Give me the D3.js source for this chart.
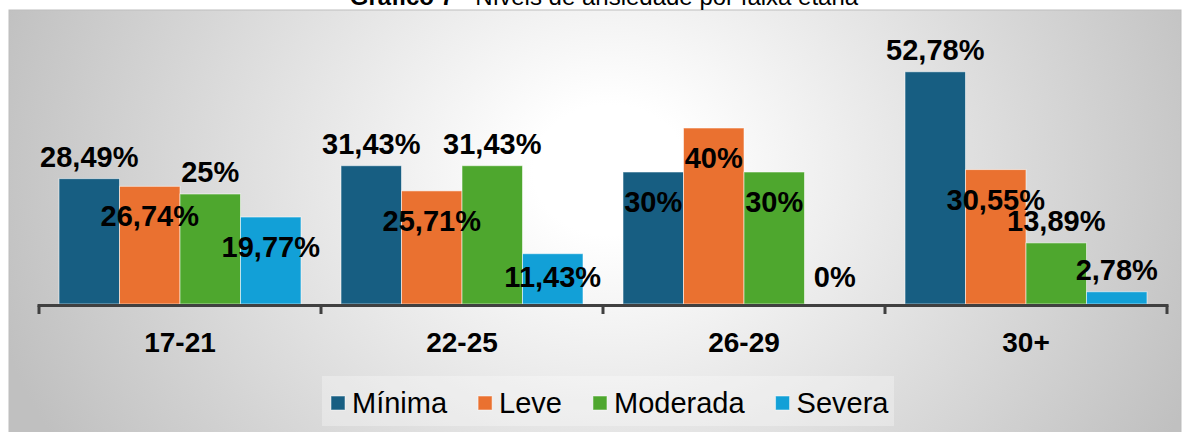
<!DOCTYPE html>
<html>
<head>
<meta charset="utf-8">
<script src="https://cdn.jsdelivr.net/npm/d3@7"></script>
<style>
  html, body { margin: 0; padding: 0; background: #fff; }
  svg { display: block; font-family: 'Liberation Sans', Arial, sans-serif; }
</style>
</head>
<body>
<div id="chart"></div>
<script>
// Níveis de ansiedade por faixa etária

const categories = ['17-21', '22-25', '26-29', '30+'];
const seriesNames = ['Mínima', 'Leve', 'Moderada', 'Severa'];
const minima = [28.49, 31.43, 30, 52.78];
const leve = [26.74, 25.71, 40, 30.55];
const moderada = [25, 31.43, 30, 13.89];
const severa = [19.77, 11.43, 0, 2.78];
const colors = ['#175e82', '#ea7130', '#4ea72e', '#12a0d7'];
// where each data label sits: above the bar or inside it
const labelSpots = [
    ['above', 'inside', 'above', 'inside'],
    ['above', 'inside', 'above', 'inside'],
    ['inside', 'inside', 'inside', 'inside'],
    ['above', 'inside', 'above', 'above']
];

(function () {
    'use strict';

    const W = 1184, H = 432;
    const seriesValues = [minima, leve, moderada, severa];

    const svg = d3.select('#chart').append('svg')
        .attr('width', W).attr('height', H);

    // fundo com gradiente radial
    const defs = svg.append('defs');
    const grad = defs.append('radialGradient').attr('id', 'bg')
        .attr('gradientUnits', 'userSpaceOnUse')
        .attr('cx', 610).attr('cy', 170).attr('r', 640)
        .attr('gradientTransform', 'translate(610,170) scale(1,0.85) translate(-610,-170)');
    grad.append('stop').attr('offset', 0.12).attr('stop-color', '#ffffff');
    grad.append('stop').attr('offset', 1).attr('stop-color', '#c0c0c0');

    svg.append('rect')
        .attr('x', 9).attr('y', 10).attr('width', 1172).attr('height', 430)
        .attr('fill', 'url(#bg)').attr('stroke', '#bdbdbd').attr('stroke-width', 1);

    // título (cortado no topo)
    const title = svg.append('text')
        .attr('x', 604).attr('y', 5).attr('text-anchor', 'middle')
        .style('font-size', '24px').attr('fill', '#000');
    title.append('tspan').style('font-weight', 'bold').text('Gráfico 7');
    title.append('tspan').text(' - Níveis de ansiedade por faixa etária');

    // escalas
    const x0 = d3.scaleBand().domain(categories).range([39, 1167]).padding(0);
    const x1 = d3.scaleBand().domain(seriesNames)
        .range([20, x0.bandwidth() - 20]).padding(0);
    const y = d3.scaleLinear().domain([0, 60]).range([304, 40]);

    const fmt = function (v) {
        return Number(v.toFixed(2)).toString().replace('.', ',') + '%';
    };

    const cellData = [];
    categories.forEach(function (c, ci) {
        seriesNames.forEach(function (s, si) {
            cellData.push({ cat: c, ci: ci, series: s, si: si, value: seriesValues[si][ci] });
        });
    });

    const bx = function (d) { return x0(d.cat) + x1(d.series); };

    // barras
    svg.append('g').attr('class', 'bars')
        .selectAll('rect')
        .data(cellData.filter(function (d) { return d.value > 0; }))
        .enter().append('rect')
        .attr('x', bx)
        .attr('y', function (d) { return y(d.value); })
        .attr('width', x1.bandwidth())
        .attr('height', function (d) { return y(0) - y(d.value); })
        .attr('fill', function (d) { return colors[d.si]; })
        .attr('stroke', 'rgba(255,255,255,0.55)')
        .attr('stroke-width', 1);

    // eixo X
    const axisY = 305.5;
    svg.append('line')
        .attr('x1', x0.range()[0]).attr('x2', x0.range()[1])
        .attr('y1', axisY).attr('y2', axisY)
        .attr('stroke', '#404040').attr('stroke-width', 3).attr('stroke-linecap', 'square');

    const bounds = categories.map(function (c) { return x0(c); }).concat([x0.range()[1]]);
    svg.selectAll('.bound').data(bounds).enter().append('line')
        .attr('x1', function (d) { return d; }).attr('x2', function (d) { return d; })
        .attr('y1', axisY).attr('y2', 314)
        .attr('stroke', '#404040').attr('stroke-width', 3);

    const xAxis = d3.axisBottom(x0).tickSize(0).tickPadding(0);
    svg.append('g').attr('transform', 'translate(0,352)')
        .call(xAxis)
        .call(function (g) { g.select('.domain').remove(); })
        .selectAll('text')
        .attr('dy', 0)
        .attr('fill', '#000')
        .style('font-family', "'Liberation Sans', Arial, sans-serif")
        .style('font-size', '28px').style('font-weight', 'bold');

    // rótulos dos valores (depois das barras, para ficarem por cima)
    svg.append('g').attr('class', 'labels')
        .selectAll('text')
        .data(cellData)
        .enter().append('text')
        .attr('x', function (d) { return bx(d) + x1.bandwidth() / 2; })
        .attr('y', function (d) {
            const top = y(d.value);
            if (labelSpots[d.ci][d.si] === 'above') {
                return top - 12;
            }
            return Math.min(top + 40, y(0) - 17);
        })
        .attr('text-anchor', 'middle')
        .style('font-size', '29px').style('font-weight', 'bold')
        .attr('fill', '#000')
        .text(function (d) { return fmt(d.value); });

    // legenda
    svg.append('rect')
        .attr('x', 322).attr('y', 376).attr('width', 572).attr('height', 50)
        .attr('fill', '#ffffff').attr('opacity', 0.3);

    const legend = svg.append('g').attr('transform', 'translate(331,0)');
    let lx = 0;
    seriesNames.forEach(function (s, i) {
        const item = legend.append('g').attr('transform', 'translate(' + lx + ',0)');
        item.append('rect')
            .attr('x', 0).attr('y', 396).attr('width', 14).attr('height', 14)
            .attr('fill', colors[i])
            .attr('stroke', 'rgba(255,255,255,0.5)');
        const t = item.append('text')
            .attr('x', 21).attr('y', 413)
            .style('font-size', '29px').attr('fill', '#000')
            .text(s);
        lx += 21 + t.node().getComputedTextLength() + 31;
    });
}());
</script>
</body>
</html>
